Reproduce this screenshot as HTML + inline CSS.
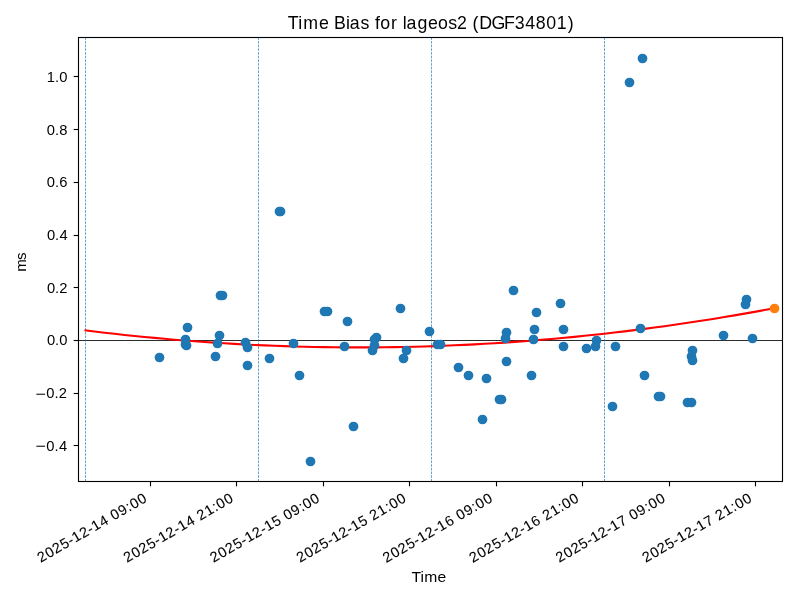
<!DOCTYPE html>
<html lang="en"><head><meta charset="utf-8"><title>Time Bias for lageos2 (DGF34801)</title>
<style>html,body{margin:0;padding:0;background:#fff;overflow:hidden}body{width:800px;height:600px}svg{display:block}text{font-family:"Liberation Sans",sans-serif;fill:#000;white-space:pre}</style></head><body>
<svg width="800" height="600" viewBox="0 0 800 600">
<rect x="0" y="0" width="800" height="600" fill="#ffffff"/>
<g fill="none"><path d="M78.5,340.5 H782.5" stroke="#000" stroke-width="0.83"/>
<path d="M85.5,481.5 V37.5" stroke="#1f77b4" stroke-width="0.69" stroke-dasharray="2.57 1.11"/>
<path d="M258.5,481.5 V37.5" stroke="#1f77b4" stroke-width="0.69" stroke-dasharray="2.57 1.11"/>
<path d="M431.5,481.5 V37.5" stroke="#1f77b4" stroke-width="0.69" stroke-dasharray="2.57 1.11"/>
<path d="M604.5,481.5 V37.5" stroke="#1f77b4" stroke-width="0.69" stroke-dasharray="2.57 1.11"/>
<path d="M84.50,330.29 L94.50,331.51 L104.50,332.69 L114.50,333.82 L124.50,334.91 L134.50,335.95 L144.50,336.95 L154.50,337.90 L164.50,338.81 L174.50,339.67 L184.50,340.48 L194.50,341.25 L204.50,341.98 L214.50,342.66 L224.50,343.29 L234.50,343.88 L244.50,344.42 L254.50,344.92 L264.50,345.37 L274.50,345.78 L284.50,346.14 L294.50,346.45 L304.50,346.72 L314.50,346.95 L324.50,347.13 L334.50,347.26 L344.50,347.35 L354.50,347.39 L364.50,347.39 L374.50,347.34 L384.50,347.25 L394.50,347.11 L404.50,346.93 L414.50,346.70 L424.50,346.42 L434.50,346.10 L444.50,345.74 L454.50,345.32 L464.50,344.87 L474.50,344.36 L484.50,343.82 L494.50,343.22 L504.50,342.59 L514.50,341.90 L524.50,341.17 L534.50,340.40 L544.50,339.58 L554.50,338.71 L564.50,337.80 L574.50,336.84 L584.50,335.84 L594.50,334.79 L604.50,333.70 L614.50,332.56 L624.50,331.38 L634.50,330.15 L644.50,328.88 L654.50,327.56 L664.50,326.19 L674.50,324.78 L684.50,323.32 L694.50,321.82 L704.50,320.27 L714.50,318.68 L724.50,317.04 L734.50,315.36 L744.50,313.63 L754.50,311.86 L764.50,310.04 L774.50,308.17" stroke="#ff0000" stroke-width="2.08" stroke-linejoin="round"/></g>
<g fill="#1f77b4">
<circle cx="159.5" cy="357.5" r="4.86"/>
<circle cx="187.5" cy="327.5" r="4.86"/>
<circle cx="185.5" cy="339.5" r="4.86"/>
<circle cx="186.5" cy="345.5" r="4.86"/>
<circle cx="185.5" cy="344.5" r="4.86"/>
<circle cx="219.5" cy="335.5" r="4.86"/>
<circle cx="217.5" cy="343.5" r="4.86"/>
<circle cx="215.5" cy="356.5" r="4.86"/>
<circle cx="220.5" cy="295.5" r="4.86"/>
<circle cx="222.5" cy="295.5" r="4.86"/>
<circle cx="245.5" cy="342.5" r="4.86"/>
<circle cx="247.5" cy="347.5" r="4.86"/>
<circle cx="247.5" cy="365.5" r="4.86"/>
<circle cx="269.5" cy="358.5" r="4.86"/>
<circle cx="279.5" cy="211.5" r="4.86"/>
<circle cx="280.5" cy="211.5" r="4.86"/>
<circle cx="293.5" cy="343.5" r="4.86"/>
<circle cx="299.5" cy="375.5" r="4.86"/>
<circle cx="310.5" cy="461.5" r="4.86"/>
<circle cx="324.5" cy="311.5" r="4.86"/>
<circle cx="327.5" cy="311.5" r="4.86"/>
<circle cx="347.5" cy="321.5" r="4.86"/>
<circle cx="344.5" cy="346.5" r="4.86"/>
<circle cx="353.5" cy="426.5" r="4.86"/>
<circle cx="376.5" cy="337.5" r="4.86"/>
<circle cx="374.5" cy="339.5" r="4.86"/>
<circle cx="374.5" cy="345.5" r="4.86"/>
<circle cx="372.5" cy="350.5" r="4.86"/>
<circle cx="400.5" cy="308.5" r="4.86"/>
<circle cx="406.5" cy="350.5" r="4.86"/>
<circle cx="403.5" cy="358.5" r="4.86"/>
<circle cx="429.5" cy="331.5" r="4.86"/>
<circle cx="437.5" cy="344.5" r="4.86"/>
<circle cx="440.5" cy="344.5" r="4.86"/>
<circle cx="458.5" cy="367.5" r="4.86"/>
<circle cx="468.5" cy="375.5" r="4.86"/>
<circle cx="482.5" cy="419.5" r="4.86"/>
<circle cx="486.5" cy="378.5" r="4.86"/>
<circle cx="499.5" cy="399.5" r="4.86"/>
<circle cx="501.5" cy="399.5" r="4.86"/>
<circle cx="506.5" cy="332.5" r="4.86"/>
<circle cx="505.5" cy="338.5" r="4.86"/>
<circle cx="506.5" cy="361.5" r="4.86"/>
<circle cx="513.5" cy="290.5" r="4.86"/>
<circle cx="531.5" cy="375.5" r="4.86"/>
<circle cx="533.5" cy="339.5" r="4.86"/>
<circle cx="534.5" cy="329.5" r="4.86"/>
<circle cx="536.5" cy="312.5" r="4.86"/>
<circle cx="560.5" cy="303.5" r="4.86"/>
<circle cx="563.5" cy="329.5" r="4.86"/>
<circle cx="563.5" cy="346.5" r="4.86"/>
<circle cx="586.5" cy="348.5" r="4.86"/>
<circle cx="596.5" cy="340.5" r="4.86"/>
<circle cx="595.5" cy="346.5" r="4.86"/>
<circle cx="615.5" cy="346.5" r="4.86"/>
<circle cx="612.5" cy="406.5" r="4.86"/>
<circle cx="629.5" cy="82.5" r="4.86"/>
<circle cx="642.5" cy="58.5" r="4.86"/>
<circle cx="640.5" cy="328.5" r="4.86"/>
<circle cx="644.5" cy="375.5" r="4.86"/>
<circle cx="658.5" cy="396.5" r="4.86"/>
<circle cx="660.5" cy="396.5" r="4.86"/>
<circle cx="692.5" cy="350.5" r="4.86"/>
<circle cx="691.5" cy="356.5" r="4.86"/>
<circle cx="692.5" cy="360.5" r="4.86"/>
<circle cx="687.5" cy="402.5" r="4.86"/>
<circle cx="691.5" cy="402.5" r="4.86"/>
<circle cx="723.5" cy="335.5" r="4.86"/>
<circle cx="746.5" cy="299.5" r="4.86"/>
<circle cx="745.5" cy="304.5" r="4.86"/>
<circle cx="752.5" cy="338.5" r="4.86"/>
</g>
<circle cx="774.5" cy="308.5" r="4.86" fill="#ff7f0e"/>
<g stroke="#000" stroke-width="1.11" fill="none">
<path d="M78.5,76.5 h-4.86"/>
<path d="M78.5,129.5 h-4.86"/>
<path d="M78.5,182.5 h-4.86"/>
<path d="M78.5,235.5 h-4.86"/>
<path d="M78.5,287.5 h-4.86"/>
<path d="M78.5,340.5 h-4.86"/>
<path d="M78.5,393.5 h-4.86"/>
<path d="M78.5,445.5 h-4.86"/>
<path d="M150.5,481.5 v4.86"/>
<path d="M236.5,481.5 v4.86"/>
<path d="M323.5,481.5 v4.86"/>
<path d="M409.5,481.5 v4.86"/>
<path d="M496.5,481.5 v4.86"/>
<path d="M582.5,481.5 v4.86"/>
<path d="M669.5,481.5 v4.86"/>
<path d="M755.5,481.5 v4.86"/>
<rect x="78.5" y="37.5" width="704.0" height="444.0"/>
</g>
<g opacity="0.999">
<g transform="translate(35.03,450.80) scale(0.9850,1)" font-size="15.00"><text x="0.60" y="0.50" textLength="10.60" lengthAdjust="spacingAndGlyphs">−</text><text x="11.47 19.83 24.22">0.4</text></g>
<g transform="translate(35.03,398.10) scale(0.9850,1)" font-size="15.00"><text x="0.60" y="0.50" textLength="10.60" lengthAdjust="spacingAndGlyphs">−</text><text x="11.47 19.83 24.00">0.2</text></g>
<g transform="translate(46.65,345.40) scale(0.9850,1)" font-size="15.00"><text x="0.24 8.59 12.92">0.0</text></g>
<g transform="translate(46.65,292.70) scale(0.9850,1)" font-size="15.00"><text x="0.24 8.59 12.77">0.2</text></g>
<g transform="translate(46.65,240.00) scale(0.9850,1)" font-size="15.00"><text x="0.24 8.59 12.98">0.4</text></g>
<g transform="translate(46.53,187.30) scale(0.9850,1)" font-size="15.00"><text x="0.24 8.59 13.00">0.6</text></g>
<g transform="translate(46.53,134.60) scale(0.9850,1)" font-size="15.00"><text x="0.24 8.59 13.05">0.8</text></g>
<g transform="translate(46.53,81.90) scale(0.9850,1)" font-size="15.00"><text x="0.29 8.71 13.04">1.0</text></g>
<g transform="translate(40.50,562.96) rotate(-30)" font-size="14.38" stroke="#000" stroke-width="0.10"><text x="0.19 9.10 17.69 26.58 35.04 40.27 48.94 57.54 62.77 71.65">2025-12-14</text><text x="84.72 93.51 102.32 106.97 115.72">09:00</text></g>
<g transform="translate(126.93,562.96) rotate(-30)" font-size="14.38" stroke="#000" stroke-width="0.10"><text x="0.19 9.10 17.69 26.58 35.04 40.27 48.94 57.54 62.77 71.65">2025-12-14</text><text x="84.57 93.52 102.32 106.97 115.72">21:00</text></g>
<g transform="translate(213.36,562.96) rotate(-30)" font-size="14.38" stroke="#000" stroke-width="0.10"><text x="0.19 9.10 17.69 26.58 35.04 40.27 48.94 57.54 62.77 71.58">2025-12-15</text><text x="84.72 93.51 102.32 106.97 115.72">09:00</text></g>
<g transform="translate(299.79,562.96) rotate(-30)" font-size="14.38" stroke="#000" stroke-width="0.10"><text x="0.19 9.10 17.69 26.58 35.04 40.27 48.94 57.54 62.77 71.58">2025-12-15</text><text x="84.57 93.52 102.32 106.97 115.72">21:00</text></g>
<g transform="translate(386.11,563.02) rotate(-30)" font-size="14.38" stroke="#000" stroke-width="0.10"><text x="0.19 9.10 17.69 26.58 35.04 40.27 48.94 57.54 62.77 71.67">2025-12-16</text><text x="84.85 93.63 102.44 107.10 115.85">09:00</text></g>
<g transform="translate(472.54,563.02) rotate(-30)" font-size="14.38" stroke="#000" stroke-width="0.10"><text x="0.19 9.10 17.69 26.58 35.04 40.27 48.94 57.54 62.77 71.67">2025-12-16</text><text x="84.69 93.65 102.44 107.10 115.85">21:00</text></g>
<g transform="translate(559.08,562.96) rotate(-30)" font-size="14.38" stroke="#000" stroke-width="0.10"><text x="0.19 9.10 17.69 26.58 35.04 40.27 48.94 57.54 62.77 71.62">2025-12-17</text><text x="84.72 93.51 102.32 106.97 115.72">09:00</text></g>
<g transform="translate(645.50,562.96) rotate(-30)" font-size="14.38" stroke="#000" stroke-width="0.10"><text x="0.19 9.10 17.69 26.58 35.04 40.27 48.94 57.54 62.77 71.62">2025-12-17</text><text x="84.57 93.52 102.32 106.97 115.72">21:00</text></g>
<g transform="translate(412.10,581.93) scale(1.0600,1)" font-size="14.79"><text x="-0.50 7.82 11.55 24.00">Time</text></g>
<g transform="translate(25.82,272.11) rotate(-90) scale(0.9950,1)" font-size="15.21"><text x="0.48 12.09">ms</text></g>
<g transform="translate(288.10,28.57)" font-size="17.75"><text x="-0.29 10.16 15.14 30.81">Time</text><text x="45.88 57.91 61.62 72.29">Bias</text><text x="86.93 92.23 103.01">for</text><text x="114.77 118.50 129.33 139.81 149.98 160.04 168.94">lageos2</text><text x="184.41 191.04 203.35 216.03 226.65 237.15 247.67 258.23 268.70 279.76">(DGF34801)</text></g>
</g></svg></body></html>
